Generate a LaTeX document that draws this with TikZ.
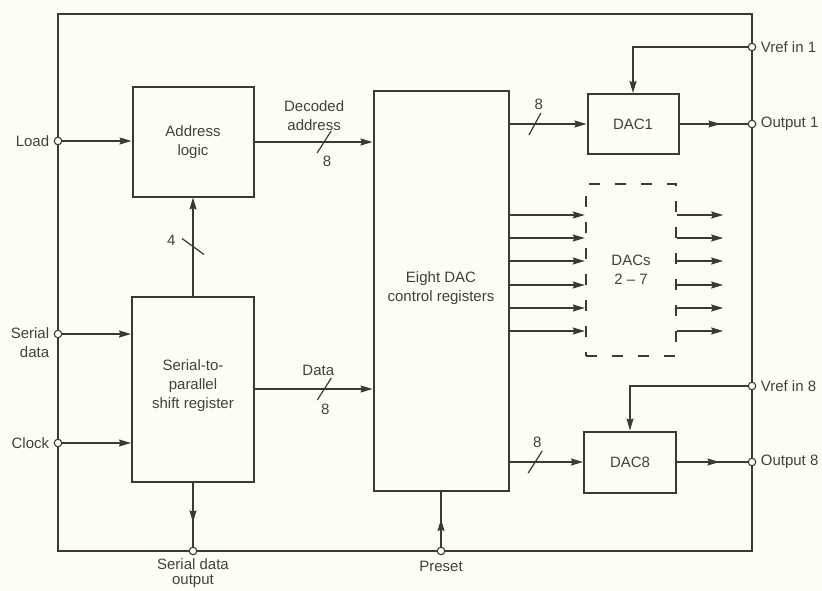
\documentclass[tikz,border=0pt]{standalone}
\usepackage{fontspec}
\setmainfont{Liberation Sans}
\usepackage{tikz}
\usetikzlibrary{arrows.meta,positioning,decorations.markings}

\definecolor{ink}{RGB}{58,58,48}
\definecolor{txt}{RGB}{66,66,56}
\definecolor{paper}{RGB}{253,253,245}

\begin{document}
\begin{tikzpicture}[
  % --- global style ---
  x=1pt, y=-1pt,
  >={Stealth[length=12pt,width=7pt,inset=1.5pt]},
  every node/.style={font=\fontsize{15}{19}\selectfont, text=txt},
  box/.style={
    draw=ink, line width=2pt, inner sep=0pt, align=center
  },
  dashbox/.style={
    box, line width=2.4pt, dash pattern=on 11pt off 15pt
  },
  chipline/.style={draw=ink, line width=1.8pt},
  wire/.style={draw=ink, line width=1.3pt},
  arr/.style={wire, ->},
  midarr/.style={wire, postaction={decorate},
    decoration={markings, mark=at position #1 with {\arrow{>}}}},
  slash/.style={draw=ink, line width=1.2pt},
  term/.style={
    circle, draw=ink, fill=white, line width=1.1pt,
    inner sep=0pt, minimum size=7.5pt
  },
]

% ====== Page ======
\fill[paper] (0,0) rectangle (822,591);
\useasboundingbox (0,0) rectangle (822,591);

% ====== Package outline ======
\draw[chipline] (58,14) rectangle (752,551);

% ====== Blocks ======
\node[box, minimum width=121pt, minimum height=109pt] (addr) at (193,142)
  {Address\\logic};
\node[box, minimum width=122pt, minimum height=185pt] (sreg) at (193,389)
  {Serial-to-\\parallel\\shift register\\[-10pt]};
\node[box, minimum width=135pt, minimum height=399pt] (regs) at (441,291)
  {Eight DAC\\control registers\\[-10pt]};
\node[box, minimum width=91pt, minimum height=60pt] (dac1) at (633,124) {DAC1};
\node[dashbox, minimum width=90pt, minimum height=172pt] (dacs) at (631,270)
  {DACs\\2 -- 7};
\node[box, minimum width=92pt, minimum height=61pt] (dac8) at (630,462) {DAC8};

% ====== Terminals ======
\node[term] (load)   at (58,141)  {};
\node[term] (serial) at (58,334)  {};
\node[term] (clock)  at (58,443)  {};
\node[term] (sdo)    at (193,551) {};
\node[term] (preset) at (441,551) {};
\node[term] (vref1)  at (752,47)  {};
\node[term] (out1)   at (752,124) {};
\node[term] (vref8)  at (752,386) {};
\node[term] (out8)   at (752,462) {};

% terminal labels
\node[left=1pt of load] (loadlbl) {Load};
\node[left=1pt of serial, yshift=-9pt, align=right] (seriallbl) {Serial\\data};
\node[left=1pt of clock] (clocklbl) {Clock};
\node[below=0pt of sdo, align=center, font=\fontsize{15}{15}\selectfont]
  (sdolbl) {Serial data\\output};
\node[below=2pt of preset] (presetlbl) {Preset};
\node[right=1pt of vref1] (vref1lbl) {Vref in 1};
\node[right=1pt of out1] (out1lbl) {Output 1};
\node[right=1pt of vref8] (vref8lbl) {Vref in 8};
\node[right=1pt of out8] (out8lbl) {Output 8};

% ====== Inputs ======
\draw[arr] (load) -- (load -| addr.west);
\draw[arr] (serial) -- (serial -| sreg.west);
\draw[arr] (clock) -- (clock -| sreg.west);

% ====== Buses ======
\draw[arr] (sreg.north) -- coordinate[pos=0.5] (abus) (addr.south);
\draw[slash] ([shift={(-11,-8)}]abus) -- ([shift={(11,8)}]abus);
\node[left=14pt of abus, yshift=6pt] (abuslbl) {4};

\draw[arr] (addr.east) -- coordinate[pos=0.59] (dabus) (addr.east -| regs.west);
\draw[slash] ([shift={(-7,11)}]dabus) -- ([shift={(7,-11)}]dabus);
\node[above=8pt of dabus, xshift=-10pt, align=center] (dablbl) {Decoded\\address};
\node (dabus8) at ([shift={(3,19)}]dabus) {8};

\draw[arr] (sreg.east) -- coordinate[pos=0.59] (dbus) (sreg.east -| regs.west);
\draw[slash] ([shift={(-7,11)}]dbus) -- ([shift={(7,-11)}]dbus);
\node[above=10pt of dbus, xshift=-6pt] (dbuslbl) {Data};
\node (dbus8) at ([shift={(1,20)}]dbus) {8};

\draw[arr] (regs.east |- dac1.west) -- coordinate[pos=0.33] (b1bus) (dac1.west);
\draw[slash] ([shift={(-6,11)}]b1bus) -- ([shift={(6,-11)}]b1bus);
\node[above=11pt of b1bus, xshift=4pt] (b1bus8) {8};

\draw[arr] (regs.east |- dac8.west) -- coordinate[pos=0.35] (b8bus) (dac8.west);
\draw[slash] ([shift={(-7,11)}]b8bus) -- ([shift={(7,-11)}]b8bus);
\node[above=11pt of b8bus, xshift=2pt] (b8bus8) {8};

% --- DACs 2-7 ---
\foreach \yy in {215,238,261,285,308,331}{
  \draw[arr] (regs.east |- 0,\yy) -- (dacs.west |- 0,\yy);
  \draw[arr] (dacs.east |- 0,\yy) -- ++(46,0);
}

% ====== References and outputs ======
\draw[arr] (vref1) -| (dac1.north);
\draw[arr] (vref8) -| (dac8.north);
\draw[midarr=0.6] (dac1.east) -- (out1);
\draw[midarr=0.6] (dac8.east) -- (out8);
\draw[midarr=0.62] (sreg.south) -- (sdo);
\draw[midarr=0.5] (preset) -- (regs.south);

\end{tikzpicture}
\end{document}
